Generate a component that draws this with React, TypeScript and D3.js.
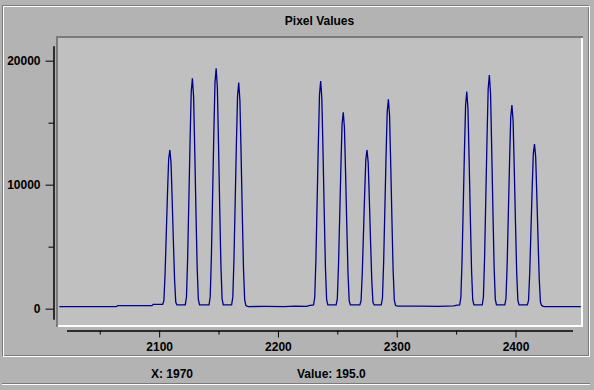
import { useRef, useEffect } from 'react'
import * as d3 from 'd3'

// pixel values: baseline stretches + each peak (11 samples from its start)
const baselineX = [2016, 2064, 2065, 2094, 2095, 2103, 2115, 2122, 2134, 2142, 2154, 2161, 2173, 2175, 2190, 2205, 2215, 2224, 2226, 2230, 2242, 2249, 2261, 2269, 2281, 2287, 2299, 2301, 2320, 2335, 2348, 2351, 2353, 2365, 2372, 2384, 2391, 2403, 2410, 2422, 2424, 2455]
const baselineV = [160, 160, 240, 240, 350, 350, 300, 300, 300, 300, 300, 300, 250, 170, 180, 170, 200, 190, 250, 300, 300, 300, 300, 300, 300, 300, 250, 200, 200, 190, 220, 280, 300, 300, 300, 300, 300, 300, 300, 250, 160, 160]

const peakStarts = [2104, 2123, 2143, 2162, 2231, 2250, 2270, 2288, 2354, 2373, 2392, 2411]
const peakValues = [
  [640, 2820, 6020, 9220, 12030, 12800, 11780, 8700, 5380, 2300, 510],
  [930, 4090, 8730, 13380, 17470, 18580, 17090, 12630, 7800, 3340, 740],
  [970, 4270, 9110, 13960, 18230, 19390, 17840, 13190, 8140, 3490, 780],
  [910, 4010, 8570, 13130, 17140, 18230, 16770, 12400, 7660, 3280, 730],
  [920, 4040, 8630, 13220, 17260, 18360, 16890, 12480, 7710, 3300, 730],
  [790, 3480, 7440, 11400, 14890, 15840, 14570, 10770, 6650, 2850, 630],
  [640, 2820, 6020, 9220, 12030, 12800, 11780, 8700, 5380, 2300, 510],
  [840, 3720, 7940, 12160, 15880, 16890, 15540, 11490, 7090, 3040, 680],
  [880, 3850, 8230, 12600, 16450, 17500, 16100, 11900, 7350, 3150, 700],
  [940, 4150, 8860, 13570, 17720, 18850, 17340, 12820, 7920, 3390, 750],
  [820, 3610, 7720, 11830, 15440, 16430, 15120, 11170, 6900, 2960, 660],
  [660, 2920, 6240, 9560, 12480, 13280, 12220, 9030, 5580, 2390, 530],
]

const xMajor = [2100, 2200, 2300, 2400]
const xMinor = [2050, 2150, 2250, 2350]
const yMajor = [0, 10000, 20000]
const yMinor = [5000, 15000]

const title = 'Pixel Values'
const statusX = 'X: 1970'
const statusValue = 'Value: 195.0'

const W = 594
const H = 390
const bg = '#b3b3b3'
const dark = '#7a7a7a'
const font = '"Liberation Sans", Arial, sans-serif'

export default function App() {
  const svgRef = useRef(null)

  useEffect(() => {
    const svg = d3.select(svgRef.current)
    svg.selectAll('*').remove()

    const x = d3.scaleLinear().domain([2022, 2448]).range([66.5, 572.5])
    const y = d3.scaleLinear().domain([-850, 21200]).range([319.2, 45.8])

    svg.append('rect').attr('width', W).attr('height', H).attr('fill', bg)

    // etched panel border
    svg.append('rect').attr('x', 2.5).attr('y', 5.5).attr('width', 586).attr('height', 350)
      .attr('fill', 'none').attr('stroke', dark)
    svg.append('rect').attr('x', 3.5).attr('y', 6.5).attr('width', 586).attr('height', 350)
      .attr('fill', 'none').attr('stroke', '#ffffff')
    svg.append('line').attr('x1', 2).attr('x2', 590).attr('y1', 383.5).attr('y2', 383.5).attr('stroke', dark)
    svg.append('line').attr('x1', 2).attr('x2', 590).attr('y1', 384.5).attr('y2', 384.5).attr('stroke', '#ffffff')

    svg.append('text').attr('x', 319.5).attr('y', 25).attr('text-anchor', 'middle')
      .attr('font-family', font).attr('font-weight', 'bold').attr('font-size', 12).text(title)

    // plot area with sunken bevel
    svg.append('rect').attr('x', 56).attr('y', 36).attr('width', 527).attr('height', 291).attr('fill', '#c0c0c0')
    svg.append('path').attr('d', 'M57,327V37H583').attr('fill', 'none').attr('stroke', dark).attr('stroke-width', 2)
    svg.append('path').attr('d', 'M58,326H582V38').attr('fill', 'none').attr('stroke', '#ffffff').attr('stroke-width', 2)

    svg.append('clipPath').attr('id', 'plotClip')
      .append('rect').attr('x', 58).attr('y', 38).attr('width', 523).attr('height', 287)

    const pts: [number, number][] = baselineX.map((bx, i) => [bx, baselineV[i]])
    peakStarts.forEach((s, p) => peakValues[p].forEach((v, i) => pts.push([s + i, v])))
    pts.sort((a, b) => a[0] - b[0])

    const line = d3.line<[number, number]>().x(d => x(d[0])).y(d => y(d[1]))
    svg.append('path').datum(pts).attr('d', line).attr('clip-path', 'url(#plotClip)')
      .attr('fill', 'none').attr('stroke', '#00008b').attr('stroke-width', 1.3)

    // y axis
    const gy = svg.append('g').attr('transform', 'translate(53.5,0)')
    gy.call(d3.axisLeft(y).tickValues(yMajor).tickSize(8).tickSizeOuter(0).tickPadding(5).tickFormat(d3.format('d')))
    gy.append('g').call(d3.axisLeft(y).tickValues(yMinor).tickSize(5).tickSizeOuter(0).tickFormat(() => ''))

    // x axis
    const gx = svg.append('g').attr('transform', 'translate(0,330.5)')
    gx.call(d3.axisBottom(x).tickValues(xMajor).tickSize(7).tickSizeOuter(0).tickPadding(5).tickFormat(d3.format('d')))
    gx.append('g').call(d3.axisBottom(x).tickValues(xMinor).tickSize(4).tickSizeOuter(0).tickFormat(() => ''))

    svg.selectAll('.tick text').attr('font-family', font).attr('font-weight', 'bold')
      .attr('font-size', 12).attr('fill', '#000')

    svg.append('text').attr('x', 151).attr('y', 378).attr('font-family', font)
      .attr('font-weight', 'bold').attr('font-size', 12).text(statusX)
    svg.append('text').attr('x', 297).attr('y', 378).attr('font-family', font)
      .attr('font-weight', 'bold').attr('font-size', 12).text(statusValue)
  }, [])

  return (
    <svg ref={svgRef} width={W} height={H}
      style={{ position: 'absolute', left: 0, top: 0, display: 'block' }} />
  )
}
